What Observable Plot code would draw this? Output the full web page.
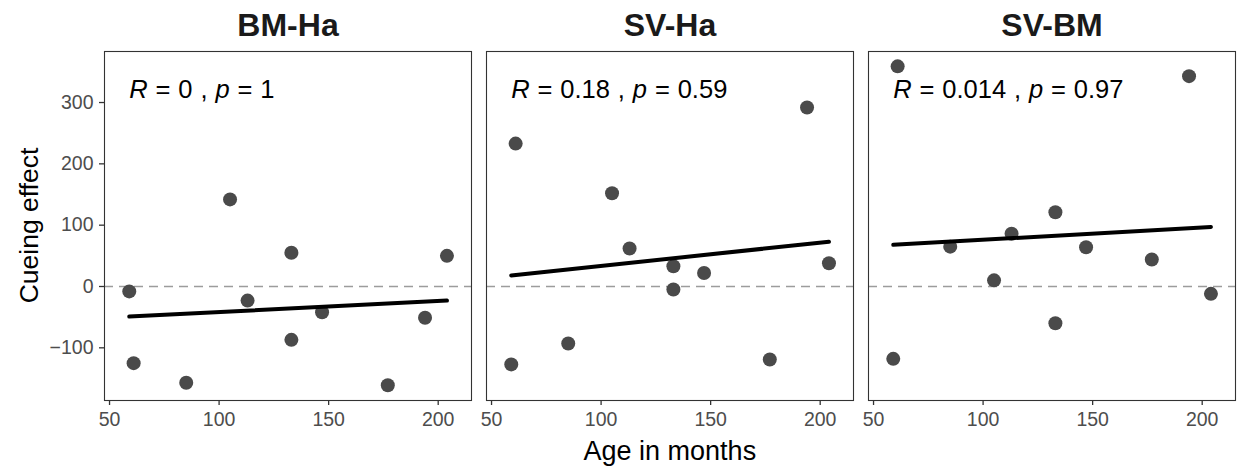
<!DOCTYPE html>
<html>
<head>
<meta charset="utf-8">
<script src="https://cdn.jsdelivr.net/npm/d3@7"></script>
<script src="https://cdn.jsdelivr.net/npm/@observablehq/plot@0.6"></script>
<style>
  html, body { margin: 0; padding: 0; background: white; }
  #chart { width: 1238px; height: 467px; }
</style>
</head>
<body>
<div id="chart"></div>
<script>
// Panels (facets)
const panels = ["BM-Ha", "SV-Ha", "SV-BM"];
// Ages in months (shared across panels)
const ages = [59, 61, 85, 105, 113, 133, 133, 147, 177, 194, 204];
// Cueing effect per panel, in the same order as ages
const bmHa = [-8, -125, -157, 142, -23, 55, -87, -42, -161, -51, 50];
const svHa = [-127, 233, -93, 152, 62, 33, -5, 22, -119, 292, 38];
const svBm = [-118, 359, 65, 10, 86, 121, -60, 64, 44, 343, -12];
// Fitted regression line values at the first and last age
const fitAges = [59, 204];
const fitBmHa = [-49, -23];
const fitSvHa = [18, 73];
const fitSvBm = [68, 97];
// Correlation labels
const corLabels = ["R = 0 , p = 1", "R = 0.18 , p = 0.59", "R = 0.014 , p = 0.97"];
const labelX = 59;
const labelY = 321;
// Axis ticks
const xTicks = [50, 100, 150, 200];
const yTicks = [-100, 0, 100, 200, 300];

const series = [bmHa, svHa, svBm];
const fits = [fitBmHa, fitSvHa, fitSvBm];
const points = panels.flatMap((p, i) => ages.map((a, j) => ({panel: p, age: a, effect: series[i][j]})));
const fitRows = panels.flatMap((p, i) => fitAges.map((a, j) => ({panel: p, age: a, fit: fits[i][j]})));
const labels = panels.map((p, i) => ({panel: p, x: labelX, y: labelY, text: corLabels[i]}));

const font = "'Liberation Sans', Arial, Helvetica, sans-serif";

const chart = Plot.plot({
  width: 1238,
  height: 467,
  marginLeft: 104,
  marginRight: 2.3,
  marginTop: 51,
  marginBottom: 67,
  style: {fontFamily: font, background: "white", overflow: "visible"},
  fx: {domain: panels, paddingInner: 0.0392, paddingOuter: 0, label: null},
  x: {domain: [47.7, 215.2], label: null},
  y: {domain: [-185.9, 383.2], label: null},
  marks: [
    Plot.ruleY([0], {stroke: "#9c9c9c", strokeWidth: 1.7, strokeDasharray: "9,6"}),
    Plot.dot(points, {x: "age", y: "effect", fx: "panel", r: 7, fill: "#4a4a4a", stroke: "none"}),
    Plot.line(fitRows, {x: "age", y: "fit", fx: "panel", z: "panel", stroke: "black", strokeWidth: 4}),
    Plot.text(labels, {x: "x", y: "y", fx: "panel", text: "text", textAnchor: "start", fontSize: 25.5, fill: "black"}),
    Plot.frame({stroke: "#333333", strokeWidth: 1.1}),
    Plot.axisX({ticks: xTicks, tickSize: 5, tickPadding: 7, stroke: "#333333", strokeWidth: 1.3, fill: "#4d4d4d", fontSize: 19.5, label: null}),
    Plot.axisY({ticks: yTicks, tickSize: 5, tickPadding: 6, stroke: "#333333", strokeWidth: 1.3, fill: "#4d4d4d", fontSize: 19.5, label: null}),
    Plot.axisFx({anchor: "top", tickSize: 0, tickPadding: 16, fontSize: 32, fontWeight: "bold", fill: "#1a1a1a", label: null})
  ]
});

document.getElementById("chart").appendChild(chart);

// Italic R and p in the correlation labels
d3.select(chart).selectAll("text").each(function() {
  const s = this.textContent;
  const m = s.match(/^R( = [^,]+ , )p( = .*)$/);
  if (!m) return;
  const t = d3.select(this);
  t.selectAll("*").remove();
  t.text(null);
  t.style("word-spacing", "0.8px");
  t.append("tspan").style("font-style", "italic").text("R");
  t.append("tspan").text(m[1]);
  t.append("tspan").style("font-style", "italic").text("p");
  t.append("tspan").text(m[2]);
});

// Axis titles
const svg = d3.select(chart);
svg.append("text")
  .attr("x", (104 + 1235.7) / 2)
  .attr("y", 460)
  .attr("text-anchor", "middle")
  .attr("font-size", 27)
  .attr("font-family", font)
  .attr("fill", "black")
  .text("Age in months");
svg.append("text")
  .attr("transform", `translate(38,${(51 + 400) / 2}) rotate(-90)`)
  .attr("text-anchor", "middle")
  .attr("font-size", 26.5)
  .attr("font-family", font)
  .attr("fill", "black")
  .text("Cueing effect");
</script>
</body>
</html>
